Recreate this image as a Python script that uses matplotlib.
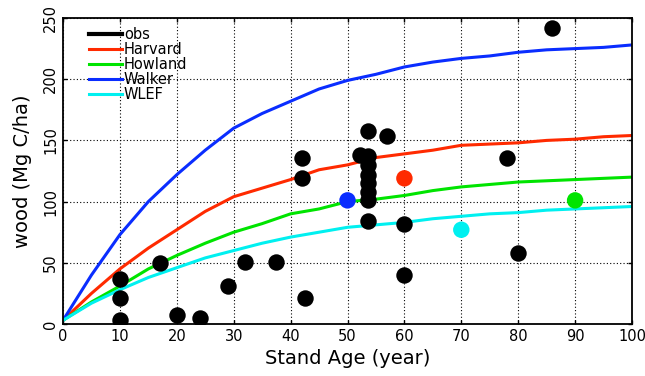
import numpy as np
import matplotlib
matplotlib.use("Agg")
from matplotlib import pyplot as plt

# model curves, read every 5 years
age = [0, 5, 10, 15, 20, 25, 30, 35, 40, 45, 50, 55, 60, 65, 70, 75, 80, 85, 90, 95, 100]
harvard = [3, 25, 45, 62, 77, 92, 104, 111, 118, 126, 130, 136, 139, 142, 146, 147, 148, 150, 151, 153, 154]
howland = [3, 18, 31, 45, 56, 66, 75, 82, 90, 94, 100, 102, 105, 109, 112, 114, 116, 117, 118, 119, 120]
walker = [3, 40, 73, 100, 122, 142, 160, 172, 182, 192, 199, 204, 210, 214, 217, 219, 222, 224, 225, 226, 228]
wlef = [3, 17, 28, 38, 46, 54, 60, 66, 71, 75, 79, 81, 83, 86, 88, 90, 91, 93, 94, 95, 96]

# observations
obs_age = [10, 10, 10, 17, 20, 24, 29, 32, 37.5, 42.5, 42, 42, 52.2,
           53.6, 53.6, 53.6, 53.6, 53.6, 53.6, 53.6, 53.6,
           57, 60, 60, 78, 80, 86]
obs_wood = [3, 21, 37, 50, 7, 5, 31, 51, 51, 21, 136, 119, 138,
            158, 137, 130, 122, 115, 108, 101, 84,
            154, 82, 40, 136, 58, 242]

# site observations
site_age = [60, 90, 50, 70]
site_wood = [119, 101, 101, 77]
site_col = ['#ff2a00', '#00e400', '#0a2dff', '#00f0f0']

fig = plt.figure(figsize=(6.45, 3.76), dpi=100)
ax = fig.add_axes([63 / 645, 1 - 324 / 376, 569 / 645, 306 / 376])

ax.plot([], [], color='black', lw=3, label='obs')
ax.plot(age, harvard, color='#ff2a00', lw=2.2, label='Harvard')
ax.plot(age, howland, color='#00e400', lw=2.2, label='Howland')
ax.plot(age, walker, color='#0a2dff', lw=2.2, label='Walker')
ax.plot(age, wlef, color='#00f0f0', lw=2.2, label='WLEF')

ax.scatter(obs_age, obs_wood, s=140, color='black', zorder=5, lw=0)
ax.scatter(site_age, site_wood, s=140, c=site_col, zorder=5, lw=0)

ax.set_xlim(0, 100)
ax.set_ylim(0, 250)
ax.set_xticks(np.arange(0, 101, 10))
ax.set_yticks(np.arange(0, 251, 50))
ax.grid(True, color='black', linestyle=(0, (1, 2)), lw=0.8)
ax.tick_params(direction='in', length=3, width=1, labelsize=10.5, top=True, right=True)
for lab in ax.get_yticklabels():
    lab.set_rotation(90)
    lab.set_va('center')
for sp in ax.spines.values():
    sp.set_linewidth(1.3)

ax.set_xlabel('Stand Age (year)', fontsize=14, labelpad=4)
ax.set_ylabel('wood (Mg C/ha)', fontsize=14, labelpad=8)

leg = ax.legend(loc='upper left', frameon=False, fontsize=10.5, handlelength=2.3,
                handletextpad=0.1, labelspacing=0.0, borderaxespad=0.2,
                bbox_to_anchor=(0.03, 1.0))

fig.savefig('out.png', dpi=100)
